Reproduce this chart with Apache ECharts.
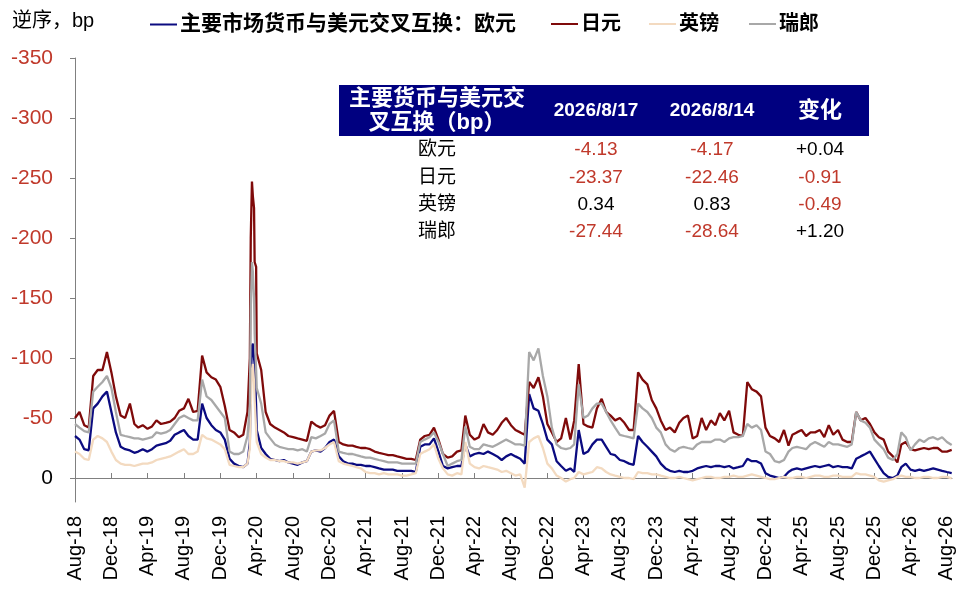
<!DOCTYPE html>
<html>
<head>
<meta charset="utf-8">
<script src="https://cdn.jsdelivr.net/npm/echarts@6/dist/echarts.min.js"></script>
<style>html,body{margin:0;padding:0;background:#fff}#c{width:966px;height:593px}</style>
</head>
<body>
<div id="c"></div>
<script>
// ---------------- DATA ----------------
const seriesNames = ['主要市场货币与美元交叉互换：欧元', '日元', '英镑', '瑞郎'];
// observations on the 1st and 16th of each month, Aug-2018 .. Aug-2026 (last one 2026-08-17)
const firstYear = 2018, firstMonth = 8, monthCount = 97;

const eur = [
  -35,-32,-24,-23,-58,-62,-68,-72,-55,-38,
  -26,-24,-23,-21,-22,-24,-22,-24,-27,-28,-29,-31,-36,-38,-40,-35,-32,-32,-62,-50,-44,-40,-38,-32,
  -16,-12,-10,-9,-12,-110,-40,-25,-20,-16,-15,-14,-15,-13,-12,-11,-13,-14,-22,-23,-22,-25,-30,-32,
  -18,-14,-12,-12,-11,-11,-10,-10,-9,-8,-7,-7,-7,-6,-6,-6,-6,-5,-26,-28,-28,-33,-22,-10,
  -8,-9,-10,-10,-28,-18,-20,-21,-20,-22,-20,-18,-15,-18,-20,-18,-16,-12,-70,-58,-56,-45,-32,-28,
  -14,-10,-6,-8,-5,-40,-20,-22,-28,-32,-32,-26,-20,-19,-15,-14,-12,-11,-35,-30,-26,-22,-18,-12,
  -8,-6,-5,-6,-5,-5,-6,-8,-9,-10,-9,-10,-10,-9,-10,-8,-9,-10,-16,-14,-14,-12,-4,-2,
  -1,0,-1,-5,-7,-8,-7,-8,-9,-10,-9,-10,-11,-9,-10,-9,-9,-8,-16,-18,-20,-22,-16,-10,
  -4,-1,0,-2,-9,-12,-7,-6,-7,-6,-7,-8,-7,-6,-5,-4.13
];
const jpy = [
  -50,-55,-44,-42,-85,-90,-90,-105,-88,-68,
  -52,-50,-62,-45,-42,-44,-41,-43,-48,-45,-46,-47,-50,-56,-58,-66,-55,-56,-102,-88,-84,-82,-76,-60,
  -40,-38,-34,-36,-55,-247,-104,-90,-55,-45,-42,-40,-38,-35,-34,-33,-32,-31,-47,-44,-42,-44,-52,-56,
  -30,-28,-27,-27,-26,-25,-25,-24,-22,-21,-20,-19,-19,-18,-17,-16,-16,-15,-32,-35,-36,-42,-32,-20,
  -17,-18,-22,-23,-52,-36,-32,-34,-45,-38,-36,-40,-46,-50,-44,-40,-38,-36,-80,-75,-84,-68,-45,-38,
  -30,-33,-50,-32,-48,-95,-45,-43,-42,-58,-66,-55,-52,-48,-50,-46,-40,-40,-88,-82,-78,-65,-58,-48,
  -40,-42,-38,-46,-50,-52,-33,-35,-50,-40,-48,-44,-54,-48,-56,-38,-36,-35,-80,-74,-72,-68,-42,-35,
  -33,-30,-40,-27,-36,-38,-40,-35,-38,-38,-40,-34,-44,-36,-40,-32,-30,-30,-55,-48,-50,-45,-38,-34,
  -32,-22,-18,-13,-28,-30,-24,-23,-24,-25,-24,-25,-25,-22,-22,-23.37
];
const gbp = [
  -22,-20,-16,-15,-32,-35,-33,-30,-22,-15,
  -12,-11,-11,-10,-11,-12,-12,-13,-15,-16,-17,-18,-20,-22,-24,-20,-20,-22,-36,-33,-32,-30,-28,-24,
  -11,-10,-9,-9,-12,-90,-30,-20,-17,-15,-15,-14,-14,-13,-13,-12,-13,-14,-22,-23,-23,-25,-28,-30,
  -14,-12,-11,-10,-9,-8,-5,-4,-4,-3,-4,-3,-3,-3,-2,-2,-3,-4,-20,-22,-24,-28,-16,-8,
  -3,-2,-4,-3,-30,-12,-9,-8,-10,-9,-8,-7,-5,-6,-4,-2,-3,8,-30,-33,-35,-25,-12,-8,
  -2,0,3,1,0,-5,-3,-4,-5,-9,-8,-5,-3,-2,-1,0,0,1,-5,-4,-4,-3,-3,-2,
  -1,0,0,-1,0,1,2,1,0,-1,-1,0,0,-1,-1,-2,-1,-1,-2,-3,-2,-1,0,1,
  1,0,-1,0,0,-1,-1,0,-1,-2,-2,-1,-1,-2,-2,-1,-1,-1,-4,-3,-3,-2,-1,2,
  3,2,1,-1,-2,-1,-1,0,0,-1,-1,0,0,-1,-1,0.34
];
const chf = [
  -45,-42,-39,-38,-72,-76,-80,-85,-75,-55,
  -36,-35,-34,-33,-33,-32,-33,-34,-38,-37,-38,-40,-45,-50,-52,-50,-48,-48,-82,-68,-65,-60,-55,-50,
  -22,-20,-20,-22,-35,-180,-75,-62,-38,-33,-28,-26,-25,-24,-24,-23,-24,-22,-34,-33,-35,-37,-45,-48,
  -22,-21,-20,-20,-19,-18,-17,-17,-16,-15,-14,-13,-13,-13,-12,-12,-12,-12,-30,-32,-34,-38,-30,-20,
  -10,-12,-14,-15,-43,-26,-24,-24,-28,-27,-26,-28,-30,-32,-30,-28,-28,-27,-105,-98,-108,-85,-68,-42,
  -28,-25,-24,-25,-28,-78,-50,-52,-58,-62,-62,-55,-48,-42,-36,-35,-34,-33,-62,-58,-55,-50,-42,-38,
  -28,-24,-22,-25,-26,-25,-24,-28,-30,-30,-30,-32,-32,-30,-33,-34,-34,-35,-45,-42,-44,-40,-22,-20,
  -14,-13,-15,-22,-25,-26,-25,-24,-28,-30,-28,-26,-30,-28,-28,-27,-26,-28,-55,-48,-46,-42,-32,-28,
  -24,-17,-15,-20,-38,-34,-23,-28,-32,-30,-33,-34,-32,-34,-30,-27.44
];

// extra observations around the March 2020 squeeze
const spikeDates = ['2020-03-09', '2020-03-12', '2020-03-19', '2020-03-23', '2020-03-25', '2020-03-30'];
const eurSpike = [-30, -80, -112, -100, -95, -60];
const jpySpike = [-100, -200, -235, -225, -180, -176];
const gbpSpike = [-25, -60, -95, -80, -65, -40];
const chfSpike = [-60, -140, -172, -150, -120, -90];

const xTickLabels = ['Aug-18','Dec-18','Apr-19','Aug-19','Dec-19','Apr-20','Aug-20','Dec-20','Apr-21','Aug-21','Dec-21','Apr-22','Aug-22','Dec-22','Apr-23','Aug-23','Dec-23','Apr-24','Aug-24','Dec-24','Apr-25','Aug-25','Dec-25','Apr-26','Aug-26'];
const yTickValues = [-350, -300, -250, -200, -150, -100, -50, 0];

const tableHead = ['主要货币与美元交\n叉互换（bp）', '2026/8/17', '2026/8/14', '变化'];
const tableRows = ['欧元', '日元', '英镑', '瑞郎'];
const latest = [-4.13, -23.37, 0.34, -27.44];
const previous = [-4.17, -22.46, 0.83, -28.64];

// ---------------- BUILD ----------------
const MONTHS = ['Jan','Feb','Mar','Apr','May','Jun','Jul','Aug','Sep','Oct','Nov','Dec'];
const FONT = "'Liberation Sans', Arial, 'Noto Sans CJK SC', sans-serif";
const RED = '#C0392B';

function labelToTime(s) {
  const p = s.split('-');
  return new Date(2000 + Number(p[1]), MONTHS.indexOf(p[0]), 1).getTime();
}
function dayToTime(s) {
  const p = s.split('-').map(Number);
  return new Date(p[0], p[1] - 1, p[2]).getTime();
}
const obsDates = [];
for (let i = 0; i < monthCount; i++) {
  const k = firstMonth - 1 + i;
  const y = firstYear + Math.floor(k / 12), mo = k % 12;
  obsDates.push(new Date(y, mo, 1).getTime());
  obsDates.push(new Date(y, mo, i === monthCount - 1 ? 17 : 16).getTime());
}
function build(vals, spikes) {
  const pts = obsDates.map((t, i) => [t, vals[i]]);
  spikeDates.forEach((d, i) => pts.push([dayToTime(d), spikes[i]]));
  pts.sort((a, b) => a[0] - b[0]);
  return pts;
}
const tickTimes = xTickLabels.map(labelToTime);
const colors = ['#0B0B80', '#7F0A0A', '#F3DAC0', '#A8A8A8'];
const allVals = [eur, jpy, gbp, chf];
const allSpikes = [eurSpike, jpySpike, gbpSpike, chfSpike];

const series = seriesNames.map((n, i) => ({
  name: n, type: 'line', data: build(allVals[i], allSpikes[i]),
  symbol: 'none', showSymbol: false, smooth: false, sampling: 'none',
  lineStyle: { width: 2.3, color: colors[i] }, itemStyle: { color: colors[i] },
  emphasis: { disabled: true }, silent: true, animation: false
}));

const legendLefts = [150, 551, 649, 749];
const legends = seriesNames.map((n, i) => ({
  data: [{ name: n, icon: 'rect', itemStyle: { color: colors[i] } }],
  left: legendLefts[i], top: 14, padding: 0, itemWidth: 27, itemHeight: 2, itemGap: 0,
  selectedMode: false,
  textStyle: { fontSize: i === 0 ? 21 : 20, fontWeight: 'bold', color: '#000', fontFamily: FONT, padding: [0, 0, 0, -2] }
}));

// table graphics
const colX = [437, 596, 712, 820];
const rowY = [150, 178, 205, 232];
function txt(text, x, y, opts) {
  return {
    type: 'text', silent: true, z: 100,
    style: Object.assign({
      text: text, x: x, y: y, fill: '#000', fontFamily: FONT, fontSize: 19,
      align: 'center', verticalAlign: 'middle', textAlign: 'center', textVerticalAlign: 'middle'
    }, opts || {})
  };
}
const graphics = [];
graphics.push({ type: 'text', silent: true, style: { text: '逆序，bp', x: 12, y: 21, fill: '#000', fontFamily: FONT, fontSize: 20, align: 'left', verticalAlign: 'middle', textAlign: 'left', textVerticalAlign: 'middle' } });
graphics.push({ type: 'rect', silent: true, z: 99, shape: { x: 339, y: 85, width: 530, height: 51 }, style: { fill: '#000080' } });
tableHead.forEach((h, j) => {
  graphics.push(txt(h, colX[j], 111, { fill: '#fff', fontWeight: 'bold', fontSize: (j === 0 || j === 3) ? 22 : 19, lineHeight: 24 }));
});
function fmt(v, signed) {
  const s = Math.abs(v).toFixed(2);
  if (v < 0) return '-' + s;
  return (signed ? '+' : '') + s;
}
tableRows.forEach((r, i) => {
  const ch = Math.round((latest[i] - previous[i]) * 100) / 100;
  graphics.push(txt(r, colX[0], rowY[i], { fontSize: 19 }));
  graphics.push(txt(fmt(latest[i], false), colX[1], rowY[i], { fill: latest[i] < 0 ? RED : '#000' }));
  graphics.push(txt(fmt(previous[i], false), colX[2], rowY[i], { fill: previous[i] < 0 ? RED : '#000' }));
  graphics.push(txt(fmt(ch, true), colX[3], rowY[i], { fill: ch < 0 ? RED : '#000' }));
});

const option = {
  animation: false,
  backgroundColor: '#fff',
  grid: { left: 75, right: 14, top: 58, bottom: 91, containLabel: false, outerBoundsMode: 'none' },
  legend: legends,
  xAxis: {
    type: 'value',
    min: new Date(2018, 7, 1).getTime(),
    max: new Date(2026, 7, 18).getTime(),
    axisLine: { show: true, onZero: true, lineStyle: { color: '#808080', width: 1 } },
    axisTick: { show: true, inside: true, length: 5, customValues: tickTimes, lineStyle: { color: '#808080' } },
    axisLabel: {
      show: true, rotate: 90, margin: 14, customValues: tickTimes,
      fontSize: 20, color: '#000', fontFamily: FONT,
      formatter: function (v) {
        const d = new Date(v);
        return MONTHS[d.getMonth()] + '-' + String(d.getFullYear()).slice(2);
      },
      showMinLabel: true, showMaxLabel: true, hideOverlap: false
    },
    splitLine: { show: false }
  },
  yAxis: {
    type: 'value', inverse: true, min: -350, max: 20, interval: 50,
    axisLine: { show: true, lineStyle: { color: '#808080', width: 1 } },
    axisTick: { show: true, inside: false, length: 5, customValues: yTickValues, lineStyle: { color: '#808080' } },
    axisLabel: {
      customValues: yTickValues, margin: 22, fontSize: 21, fontFamily: FONT,
      color: function (v) { return Number(v) < 0 ? RED : '#000'; }
    },
    splitLine: { show: false }
  },
  series: series,
  graphic: graphics
};
const chart = echarts.init(document.getElementById('c'), null, { renderer: 'canvas' });
chart.setOption(option);
</script>
</body>
</html>
